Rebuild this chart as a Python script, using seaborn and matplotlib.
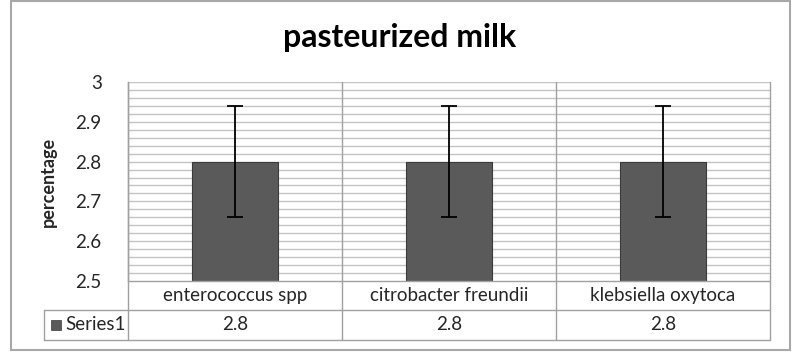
import matplotlib
matplotlib.use("Agg")
import matplotlib.pyplot as plt
import seaborn as sns
import pandas as pd
import numpy as np
from matplotlib.patches import Rectangle
from matplotlib.lines import Line2D

categories = ["enterococcus spp", "citrobacter freundii", "klebsiella oxytoca"]
values = [2.8, 2.8, 2.8]
errors = [0.14, 0.14, 0.14]
series_name = "Series1"
title = "pasteurized milk"
ylabel = "percentage"
yticks = [2.5, 2.6, 2.7, 2.8, 2.9, 3.0]
ytick_labels = ["2.5", "2.6", "2.7", "2.8", "2.9", "3"]

sns.set_theme(style="white")
plt.rcParams['font.family'] = ['Lato', 'DejaVu Sans']

W, H = 800, 359
fig = plt.figure(figsize=(8, 3.59), dpi=100)
L, R, T, B = 128, 770, 82, 281
ax = fig.add_axes([L / W, 1 - B / H, (R - L) / W, (B - T) / H])

df = pd.DataFrame({"cat": categories, "val": values})
sns.barplot(data=df, x="cat", y="val", ax=ax, color="#5a5a5a", width=0.4,
            saturation=1, edgecolor="#3a3a3a", linewidth=0.8, zorder=3)
ax.errorbar(range(len(categories)), values, yerr=errors, fmt="none",
            ecolor="black", elinewidth=1.3, capsize=6, capthick=1.3, zorder=4)

ax.set_ylim(2.5, 3.0)
ax.set_xlim(-0.5, len(categories) - 0.5)
ax.set_yticks(yticks)
ax.set_yticklabels(ytick_labels, fontsize=13.5)
ax.tick_params(axis="y", length=0, pad=19)
ax.set_xticks([])
ax.set_xlabel("")
ax.set_ylabel(ylabel, fontsize=13, fontweight="bold", labelpad=13)

for yv in np.arange(2.52, 3.0001, 0.02):
    ax.axhline(yv, color="#c4c4c4", lw=1.0, zorder=1)
for s in ["top", "right", "bottom"]:
    ax.spines[s].set_visible(False)
ax.spines["left"].set_color("#a0a0a0")
ax.spines["left"].set_linewidth(1.0)

fig.text(0.5, 1 - 38 / H, title, ha="center", va="center", fontsize=23,
         fontweight="bold", color="black")

line_c = "#a0a0a0"
def fx(px):
    return px / W
def fy(py):
    return 1 - py / H

row1_bot, row2_bot = 310, 340
leg_left = 44
seps = [L + (R - L) * i / len(categories) for i in range(len(categories) + 1)]
fig.add_artist(Line2D([fx(L), fx(R)], [fy(B), fy(B)], color=line_c, lw=1.0))
fig.add_artist(Line2D([fx(leg_left), fx(R)], [fy(row1_bot), fy(row1_bot)], color=line_c, lw=1.0))
fig.add_artist(Line2D([fx(leg_left), fx(R)], [fy(row2_bot), fy(row2_bot)], color=line_c, lw=1.0))
for xs in seps:
    fig.add_artist(Line2D([fx(xs), fx(xs)], [fy(T), fy(row2_bot)], color=line_c, lw=1.0))
fig.add_artist(Line2D([fx(leg_left), fx(leg_left)], [fy(row1_bot), fy(row2_bot)], color=line_c, lw=1.0))

for i, c in enumerate(categories):
    cx = (seps[i] + seps[i + 1]) / 2
    fig.text(fx(cx), fy((B + row1_bot) / 2), c, ha="center", va="center", fontsize=13.5)
    fig.text(fx(cx), fy((row1_bot + row2_bot) / 2), f"{values[i]:g}", ha="center", va="center", fontsize=13.5)

fig.add_artist(Rectangle((fx(51), fy(330)), 10 / W, 10 / H, facecolor="#5a5a5a",
                         edgecolor="#3a3a3a", lw=0.5, transform=fig.transFigure))
fig.text(fx(65), fy((row1_bot + row2_bot) / 2), series_name, ha="left", va="center", fontsize=13.5)

fig.add_artist(Rectangle((fx(11), fy(350)), (790 - 11) / W, (350 - 1) / H, fill=False,
                         edgecolor="#a8a8a8", lw=1.5, transform=fig.transFigure))

fig.savefig("out.png", dpi=100)
